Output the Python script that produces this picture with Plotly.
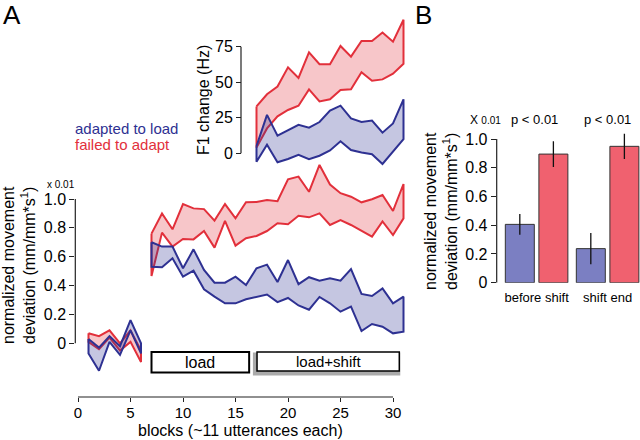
import plotly.graph_objects as go

# ---------------- data ----------------
blocks_base = [1, 2, 3, 4, 5, 6]
blocks_task = list(range(7, 32))
blocks_f1 = list(range(17, 32))

adapt_dev_upper_base = [0.03, -0.03, 0.05, -0.02, 0.16, 0.0]
adapt_dev_lower_base = [-0.07, -0.19, 0.01, -0.08, 0.09, -0.07]
fail_dev_upper_base = [0.07, 0.05, 0.09, 0.0, 0.09, -0.05]
fail_dev_lower_base = [0.01, -0.04, 0.04, -0.05, 0.01, -0.13]

fail_dev_upper = [0.76, 0.90, 0.79, 0.965, 0.935, 0.93, 0.85, 0.965, 0.866, 0.977,
                  0.98, 0.993, 0.985, 1.136, 1.155, 1.05, 1.236, 1.10, 1.04, 1.016,
                  0.977, 0.998, 1.028, 0.917, 1.104]
fail_dev_lower = [0.466, 0.767, 0.67, 0.723, 0.72, 0.778, 0.663, 0.848, 0.677, 0.728,
                  0.744, 0.778, 0.832, 0.825, 0.884, 0.873, 0.90, 0.82, 0.854, 0.82,
                  0.78, 0.739, 0.845, 0.75, 0.866]
adapt_dev_upper = [0.70, 0.67, 0.67, 0.52, 0.651, 0.508, 0.42, 0.42, 0.462, 0.404,
                   0.52, 0.545, 0.425, 0.577, 0.41, 0.458, 0.433, 0.45, 0.434, 0.515,
                   0.342, 0.328, 0.381, 0.277, 0.323]
adapt_dev_lower = [0.53, 0.527, 0.589, 0.462, 0.503, 0.374, 0.323, 0.277, 0.277, 0.305,
                   0.319, 0.338, 0.285, 0.314, 0.262, 0.233, 0.321, 0.277, 0.219, 0.254,
                   0.085, 0.134, 0.115, 0.069, 0.08]

f1_fail_upper = [33, 41.5, 47, 60.5, 53, 71, 62.7, 62.7, 75.5, 68, 79, 79, 85, 78.5, 94]
f1_fail_lower = [4, 17.5, 26, 30.5, 33.5, 45, 36.5, 38, 44.5, 45, 57, 51, 52, 56, 63]
f1_adapt_upper = [5, 27, 12.4, 16, 20, 18, 22, 30, 33.5, 24.5, 22, 23, 14.5, 21, 38]
f1_adapt_lower = [-6, 6, -6.3, -4, -1, -4.2, -1.7, 2, 8.5, 2.3, 0.5, -0.6, -7.5, 1.2, 10]

bar_groups = ["before shift", "shift end"]
bar_adapt = [0.406, 0.237]
bar_adapt_err = [0.072, 0.108]
bar_fail = [0.895, 0.949]
bar_fail_err = [0.09, 0.088]

x_ticks = [0, 5, 10, 15, 20, 25, 30]
dev_ticks = [0, 0.2, 0.4, 0.6, 0.8, 1.0]
dev_ticktext = ["0", "0.2", "0.4", "0.6", "0.8", "1.0"]
f1_ticks = [0, 25, 50, 75]

# ---------------- style ----------------
W, H = 640, 440
FONT = "Liberation Sans, Arial, Helvetica, sans-serif"
RED = "#e2303b"
BLUE = "#2e3192"
RED_FILL = "rgba(227,43,54,0.27)"
BLUE_FILL = "rgba(46,49,146,0.28)"
AX = "#222222"


def px(x):
    return x / W


def py(y):
    return 1 - y / H


fig = go.Figure()


def band(xs, upper, lower, lc, fc, xa, ya):
    xx = list(xs) + list(xs)[::-1] + [xs[0]]
    yy = list(upper) + list(lower)[::-1] + [upper[0]]
    fig.add_trace(go.Scatter(x=xx, y=yy, mode="lines", fill="toself", fillcolor=fc,
                             line=dict(color=lc, width=2), xaxis=xa, yaxis=ya,
                             hoverinfo="skip", showlegend=False))


band(blocks_base, fail_dev_upper_base, fail_dev_lower_base, RED, RED_FILL, "x", "y")
band(blocks_base, adapt_dev_upper_base, adapt_dev_lower_base, BLUE, BLUE_FILL, "x", "y")
band(blocks_task, fail_dev_upper, fail_dev_lower, RED, RED_FILL, "x", "y")
band(blocks_task, adapt_dev_upper, adapt_dev_lower, BLUE, BLUE_FILL, "x", "y")
band(blocks_f1, f1_fail_upper, f1_fail_lower, RED, RED_FILL, "x2", "y2")
band(blocks_f1, f1_adapt_upper, f1_adapt_lower, BLUE, BLUE_FILL, "x2", "y2")

fig.add_trace(go.Bar(x=bar_groups, y=bar_adapt, marker=dict(color="#7b7fc2", line=dict(color="#333333", width=1)),
                     error_y=dict(type="data", array=bar_adapt_err, color="#111111", thickness=1.3, width=0),
                     xaxis="x3", yaxis="y3", showlegend=False, hoverinfo="skip"))
fig.add_trace(go.Bar(x=bar_groups, y=bar_fail, marker=dict(color="#f0616f", line=dict(color="#333333", width=1)),
                     error_y=dict(type="data", array=bar_fail_err, color="#111111", thickness=1.3, width=0),
                     xaxis="x3", yaxis="y3", showlegend=False, hoverinfo="skip"))

# main axes geometry (pixels -> data)
x0_px, xppb = 78.0, 10.5          # pixel of block 0, pixels per block
y0_px, yppu = 343.3, 144.3        # pixel of deviation 0, pixels per unit
f0_px, fppu = 153.3, 1.4213       # pixel of 0 Hz, pixels per Hz
left_px, right_px, bot_px, top_px = 75.3, 405.0, 397.0, 160.0
xr = [(left_px - x0_px) / xppb, (right_px - x0_px) / xppb]
yr = [(y0_px - bot_px) / yppu, (y0_px - top_px) / yppu]
f_bot, f_top = 170.0, 10.0
fr = [(f0_px - f_bot) / fppu, (f0_px - f_top) / fppu]

tick_common = dict(ticks="outside", ticklen=5, tickwidth=1.2, tickcolor=AX,
                   showgrid=False, zeroline=False, showline=False, automargin=False,
                   tickfont=dict(family=FONT, size=16, color="black"))

b_bot, b_ppu = 282.7, 143.7
b_top = b_bot - 1.1 * b_ppu
cat0_px, cat_ppu = 536.6, 71.0
b_left = 496.7

xmain = dict(tick_common)
xmain["ticklen"] = 4
xmain["tickfont"] = dict(family=FONT, size=15, color="black")

fig.update_layout(
    width=W, height=H, margin=dict(l=0, r=0, t=0, b=0, autoexpand=False),
    paper_bgcolor="white", plot_bgcolor="rgba(0,0,0,0)",
    font=dict(family=FONT, color="black"),
    barmode="group", bargap=0.054, bargroupgap=0.137,
    xaxis=dict(domain=[px(left_px), px(right_px)], range=xr, tickvals=x_ticks, anchor="y",
               ticklabelstandoff=-2, **xmain),
    yaxis=dict(domain=[py(bot_px), py(top_px)], range=yr, tickvals=dev_ticks, ticktext=dev_ticktext,
               anchor="x", **tick_common),
    xaxis2=dict(domain=[px(left_px), px(right_px)], range=xr, visible=False, anchor="y2", automargin=False),
    yaxis2=dict(domain=[py(f_bot), py(f_top)], range=fr, tickvals=f1_ticks, anchor="free",
                position=px(241), **tick_common),
    xaxis3=dict(domain=[px(b_left), 1.0], type="category",
                range=[(b_left - cat0_px) / cat_ppu, (W - cat0_px) / cat_ppu],
                anchor="y3", ticks="", showgrid=False, zeroline=False, showline=False, automargin=False,
                ticklabelstandoff=5, tickfont=dict(family=FONT, size=13, color="black")),
    yaxis3=dict(domain=[py(b_bot), py(b_top)], range=[0, 1.1], tickvals=dev_ticks, ticktext=dev_ticktext,
                anchor="x3", **tick_common),
)

shapes = []
line = dict(color=AX, width=1.2)
shapes.append(dict(type="line", xref="x", yref="paper", x0=0, x1=30, y0=py(bot_px), y1=py(bot_px), line=line))
shapes.append(dict(type="line", xref="paper", yref="y", x0=px(left_px), x1=px(left_px), y0=0, y1=1.0, line=line))
shapes.append(dict(type="line", xref="paper", yref="y2", x0=px(241), x1=px(241), y0=0, y1=75, line=line))
shapes.append(dict(type="line", xref="paper", yref="y3", x0=px(b_left), x1=px(b_left), y0=0, y1=1.0, line=line))
# phase boxes
shapes.append(dict(type="rect", xref="x", yref="paper", x0=7.0, x1=16.3, y0=py(372.5), y1=py(352),
                   line=dict(color="black", width=2), fillcolor="white"))
shapes.append(dict(type="rect", xref="x", yref="paper", x0=16.8, x1=30.55, y0=py(374), y1=py(354),
                   line=dict(color="#aaaaaa", width=3), fillcolor="#aaaaaa"))
shapes.append(dict(type="rect", xref="x", yref="paper", x0=17.05, x1=30.6, y0=py(371), y1=py(352),
                   line=dict(color="black", width=1.5), fillcolor="white"))
fig.update_layout(shapes=shapes)


def ann(x, y, text, size, color="black", xanchor="center", angle=0, yanchor="middle"):
    fig.add_annotation(x=px(x), y=py(y), xref="paper", yref="paper", text=text, showarrow=False,
                       xanchor=xanchor, yanchor=yanchor, textangle=angle,
                       font=dict(family=FONT, size=size, color=color))


ann(12, 15, "A", 26)
ann(423, 15, "B", 26)
ann(73, 128, "adapted to load", 15, BLUE, xanchor="left")
ann(73, 144, "failed to adapt", 15, RED, xanchor="left")
ann(61, 184, "x 0.01", 10)
ann(485, 120, "X <span style='font-size:10px'>0.01</span>", 12)
ann(534, 120, "p &lt; 0.01", 13)
ann(607, 120, "p &lt; 0.01", 13)
ann(19, 265, "normalized movement<br>deviation (mm/mm*s<sup>1</sup>)", 16, angle=-90)
ann(441, 211, "normalized movement<br>deviation (mm/mm*s<sup>1</sup>)", 16, angle=-90)
ann(203, 100, "F1 change (Hz)", 16, angle=-90)
ann(240, 430, "blocks (~11 utterances each)", 16)
ann(200, 362, "load", 16)
ann(328, 361.5, "load+shift", 15)

fig.write_html("out.html", config={"displayModeBar": False},
               post_script="document.body.style.margin='0';document.body.style.padding='0';")
